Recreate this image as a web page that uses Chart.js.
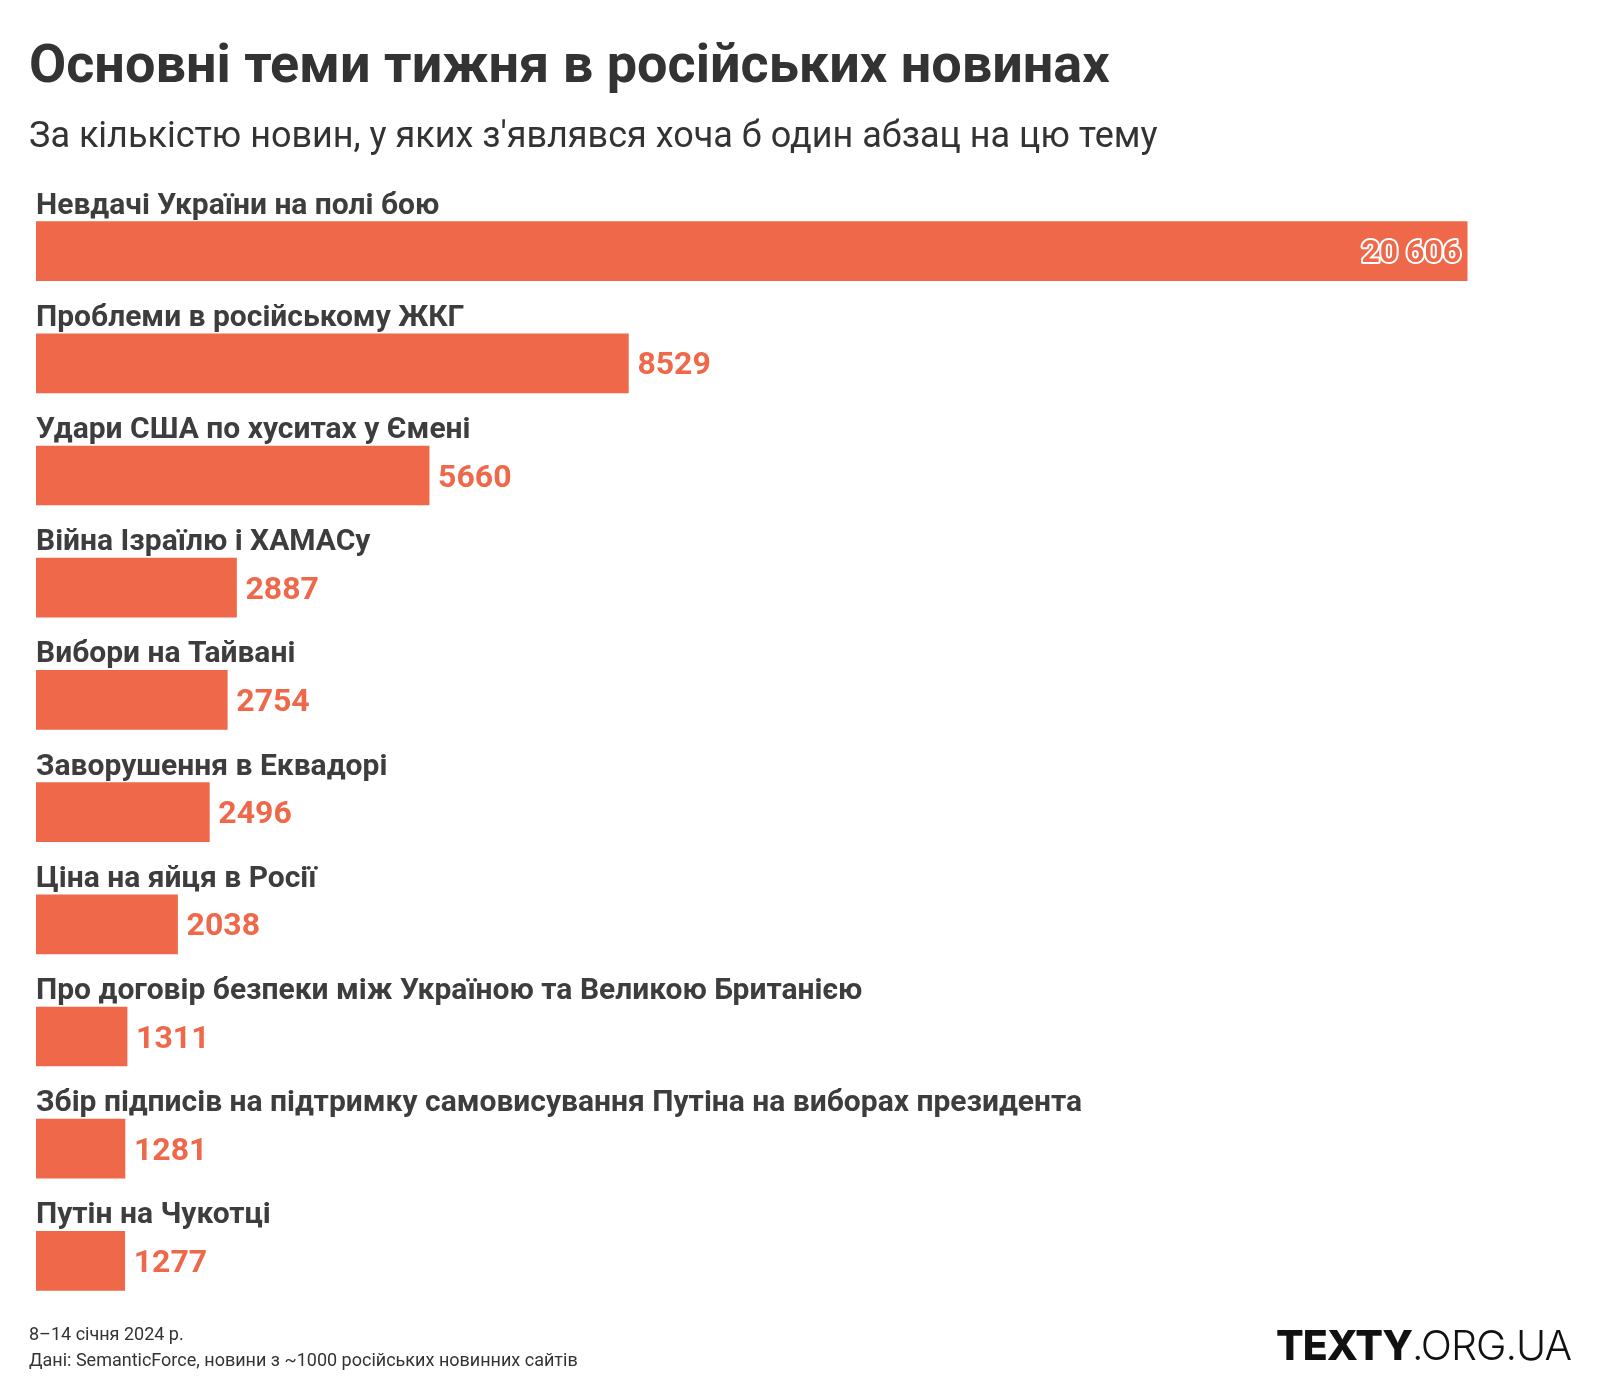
<!DOCTYPE html>
<html>
<head>
<meta charset="utf-8">
<script src="https://cdn.jsdelivr.net/npm/chart.js@4"></script>
<style>
  html, body { margin: 0; padding: 0; background: #fff; }
  #wrap { position: relative; width: 1600px; height: 1400px; overflow: hidden; }
  #chart { position: absolute; left: 0; top: 0; }
  .txt { position: absolute; white-space: nowrap; font-family: Roboto, sans-serif; line-height: 1; }
  #title { left: 29px; top: 37px; font-size: 54px; font-weight: 700; color: #333; }
  #subtitle { left: 29px; top: 117px; font-size: 36px; font-weight: 400; color: #333; }
  #note1 { left: 29px; top: 1325px; font-size: 18px; color: #333; }
  #note2 { left: 29px; top: 1351px; font-size: 18px; color: #333; }
  #logo { right: 29px; top: 1325px; font-family: Inter, sans-serif; font-size: 41px; color: #111; letter-spacing: -1px; }
  #logo b { font-weight: 800; }
  #logo span { font-weight: 300; }
</style>
</head>
<body>
<div id="wrap">
  <canvas id="chart" width="1600" height="1400"></canvas>
  <div class="txt" id="title">Основні теми тижня в російських новинах</div>
  <div class="txt" id="subtitle">За кількістю новин, у яких з'являвся хоча б один абзац на цю тему</div>
  <div class="txt" id="note1">8–14 січня 2024 р.</div>
  <div class="txt" id="note2">Дані: SemanticForce, новини з ~1000 російських новинних сайтів</div>
  <div class="txt" id="logo"><b>TEXTY</b><span>.ORG.UA</span></div>
</div>
<script>
// Теми та кількість новин
const topics = [
    'Невдачі України на полі бою',
    'Проблеми в російському ЖКГ',
    'Удари США по хуситах у Ємені',
    'Війна Ізраїлю і ХАМАСу',
    'Вибори на Тайвані',
    'Заворушення в Еквадорі',
    'Ціна на яйця в Росії',
    'Про договір безпеки між Україною та Великою Британією',
    'Збір підписів на підтримку самовисування Путіна на виборах президента',
    'Путін на Чукотці'
];
const newsCount = [20606, 8529, 5660, 2887, 2754, 2496, 2038, 1311, 1281, 1277];
const valueLabels = ['20 606', '8529', '5660', '2887', '2754', '2496', '2038', '1311', '1281', '1277'];

const BAR_COLOR = '#ee6849';
const BAR_HEIGHT = 59;

// Підписи тем над смугами і значення праворуч (або всередині для найдовшої)
const barLabelsPlugin = {
    id: 'barLabels',
    afterDatasetsDraw(chart) {
        const ctx = chart.ctx;
        const meta = chart.getDatasetMeta(0);
        ctx.save();
        meta.data.forEach((bar, i) => {
            const top = bar.y - BAR_HEIGHT / 2;
            // назва теми
            ctx.font = '700 30px Roboto, sans-serif';
            ctx.fillStyle = '#3d3d3d';
            ctx.textAlign = 'left';
            ctx.textBaseline = 'alphabetic';
            ctx.fillText(topics[i], chart.chartArea.left, top - 8);

            // значення
            ctx.font = '700 32px Roboto, sans-serif';
            ctx.textBaseline = 'middle';
            const label = valueLabels[i];
            const w = ctx.measureText(label).width;
            if (bar.x + 10 + w > chart.chartArea.right) {
                ctx.textAlign = 'right';
                ctx.lineWidth = 4;
                ctx.lineJoin = 'round';
                ctx.strokeStyle = '#ffffff';
                ctx.strokeText(label, bar.x - 6, bar.y + 3);
                ctx.fillStyle = BAR_COLOR;
                ctx.fillText(label, bar.x - 6, bar.y + 3);
            } else {
                ctx.textAlign = 'left';
                ctx.fillStyle = BAR_COLOR;
                ctx.fillText(label, bar.x + 9, bar.y + 3);
            }
        });
        ctx.restore();
    }
};

new Chart(document.getElementById('chart').getContext('2d'), {
    type: 'bar',
    data: {
        labels: topics,
        datasets: [{
            data: newsCount,
            backgroundColor: BAR_COLOR,
            borderWidth: 0,
            barThickness: BAR_HEIGHT
        }]
    },
    options: {
        indexAxis: 'y',
        responsive: false,
        animation: false,
        layout: { padding: { top: 195, bottom: 83, left: 36, right: 36 } },
        plugins: {
            legend: { display: false },
            tooltip: { enabled: false }
        },
        scales: {
            x: { display: false, min: 0, max: 22000 },
            y: { display: false }
        }
    },
    plugins: [barLabelsPlugin]
});
</script>
</body>
</html>
